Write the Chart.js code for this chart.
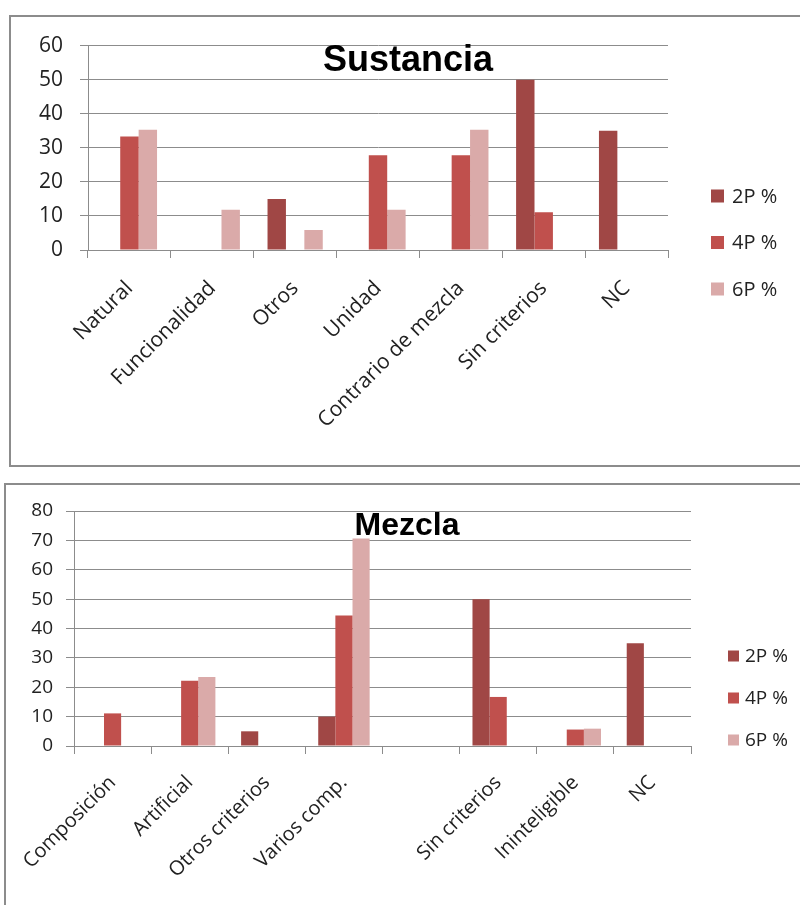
<!DOCTYPE html>
<html>
<head>
<meta charset="utf-8">
<script src="https://cdn.jsdelivr.net/npm/chart.js@4"></script>
<style>
    html, body { margin: 0; padding: 0; overflow: hidden; background: #fff; }
    .frame { position: absolute; box-sizing: border-box; border: 2px solid #8c8c8c; background: #fff; }
    #frame1 { left: 9px; top: 15px; width: 830px; height: 452px; }
    #frame2 { left: 4px; top: 483px; width: 830px; height: 500px; }
    canvas { position: absolute; }
    #sustanciaChart { left: 10px; top: 16px; }
    #mezclaChart { left: 5px; top: 484px; }
</style>
</head>
<body>
<div class="frame" id="frame1"></div>
<div class="frame" id="frame2"></div>
<canvas id="sustanciaChart" width="790" height="450"></canvas>
<canvas id="mezclaChart" width="795" height="421"></canvas>

<script>
const seriesLabels = ['2P %', '4P %', '6P %'];
const seriesColors = ['#A04745', '#C0504D', '#DAAAA9'];

// Sustancia
const sustCategories = ['Natural', 'Funcionalidad', 'Otros', 'Unidad', 'Contrario de mezcla', 'Sin criterios', 'NC'];
const sust2P = [0, 0, 15, 0, 0, 50, 35];
const sust4P = [33.3, 0, 0, 27.8, 27.8, 11.1, 0];
const sust6P = [35.3, 11.8, 5.9, 11.8, 35.3, 0, 0];
const sustTicks = [0, 10, 20, 30, 40, 50, 60];

// Mezcla
const mezCategories = ['Composición', 'Artificial', 'Otros criterios', 'Varios comp.', '', 'Sin criterios', 'Ininteligible', 'NC'];
const mez2P = [0, 0, 5, 10, 0, 50, 0, 35];
const mez4P = [11.1, 22.2, 0, 44.4, 0, 16.7, 5.6, 0];
const mez6P = [0, 23.5, 0, 70.6, 0, 0, 5.9, 0];
const mezTicks = [0, 10, 20, 30, 40, 50, 60, 70, 80];

const GRID = '#8c8c8c';
const TEXT = '#222';
const FONT = '"Open Sans", sans-serif';

// title over the plot + legend on the right, Excel style
const overlay = {
    id: 'overlay',
    afterDraw(chart, args, o) {
        const ctx = chart.ctx;
        ctx.save();
        ctx.fillStyle = '#000';
        ctx.font = `bold ${o.titleSize}px "Liberation Sans", Arial, sans-serif`;
        ctx.textAlign = 'center';
        ctx.textBaseline = 'alphabetic';
        ctx.fillText(o.title, o.titleX, o.titleY);

        chart.data.datasets.forEach((ds, i) => {
            const y = o.legendY + i * o.legendGap;
            ctx.fillStyle = ds.backgroundColor;
            ctx.fillRect(o.legendX, y - o.box / 2, o.box, o.box);
            ctx.fillStyle = TEXT;
            ctx.font = `${o.legendSize}px ${FONT}`;
            ctx.textAlign = 'left';
            ctx.textBaseline = 'middle';
            ctx.fillText(ds.label, o.legendX + o.box + o.textGap, y + 1);
        });
        ctx.restore();
    }
};

function makeChart(id, labels, values, ticks, s) {
    new Chart(document.getElementById(id), {
        type: 'bar',
        data: {
            labels: labels,
            datasets: values.map((v, i) => ({
                label: seriesLabels[i],
                data: v,
                backgroundColor: seriesColors[i],
                borderWidth: 0,
                categoryPercentage: 3 / 4.5,
                barPercentage: 1
            }))
        },
        options: {
            responsive: false,
            animation: false,
            layout: { padding: { left: 0, top: s.top, right: s.right, bottom: 0 } },
            plugins: {
                legend: { display: false },
                title: { display: false },
                tooltip: { enabled: false },
                overlay: s.overlay
            },
            scales: {
                x: {
                    grid: { offset: true, drawOnChartArea: false, drawTicks: true, tickLength: 8, color: GRID },
                    border: { color: GRID },
                    ticks: {
                        autoSkip: false, minRotation: 45, maxRotation: 45,
                        padding: s.xPad, color: TEXT,
                        font: { family: FONT, size: s.xFont }
                    },
                    afterFit: sc => { sc.height = s.xHeight; }
                },
                y: {
                    min: 0,
                    max: ticks[ticks.length - 1],
                    afterBuildTicks: sc => { sc.ticks = ticks.map(v => ({ value: v })); },
                    grid: { color: GRID, tickLength: 8 },
                    border: { color: GRID },
                    ticks: { padding: s.yPad, color: TEXT, font: { family: FONT, size: s.yFont } },
                    afterFit: sc => { sc.width = s.yWidth; }
                }
            }
        },
        plugins: [overlay]
    });
}

makeChart('sustanciaChart', sustCategories, [sust2P, sust4P, sust6P], sustTicks, {
    top: 28, right: 132, xHeight: 216, yWidth: 78, xPad: 18, yPad: 17, xFont: 21, yFont: 21,
    overlay: {
        title: 'Sustancia', titleSize: 36, titleX: 398, titleY: 55,
        legendX: 701, legendY: 180, legendGap: 46.5, box: 13, textGap: 8, legendSize: 20
    }
});

makeChart('mezclaChart', mezCategories, [mez2P, mez4P, mez6P], mezTicks, {
    top: 27, right: 109, xHeight: 159, yWidth: 69, xPad: 17, yPad: 13, xFont: 20, yFont: 19,
    overlay: {
        title: 'Mezcla', titleSize: 32, titleX: 402, titleY: 51,
        legendX: 723, legendY: 172, legendGap: 42, box: 11, textGap: 6, legendSize: 19
    }
});
</script>
</body>
</html>
